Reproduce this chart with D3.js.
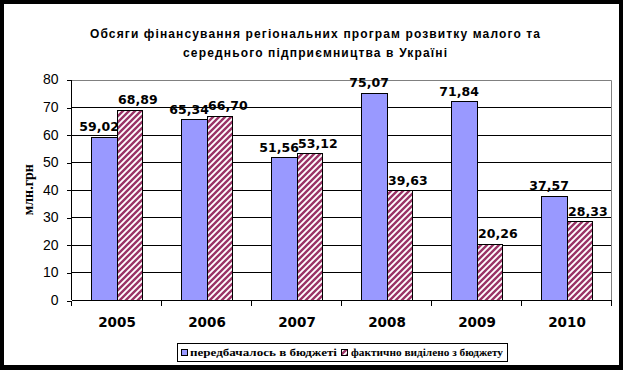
<!DOCTYPE html>
<html>
<head>
<meta charset="utf-8">
<script src="https://cdn.jsdelivr.net/npm/d3@7"></script>
<style>
  body { margin: 0; background: #fff; }
  svg { display: block; }
</style>
</head>
<body>
<svg width="623" height="370"></svg>
<script>
const years = ['2005', '2006', '2007', '2008', '2009', '2010'];
const planned = [59.02, 65.34, 51.56, 75.07, 71.84, 37.57];
const actual = [68.89, 66.70, 53.12, 39.63, 20.26, 28.33];
const seriesNames = ['передбачалось в бюджеті', 'фактично виділено з бюджету'];
const yTicks = [0, 10, 20, 30, 40, 50, 60, 70, 80];
const titleLines = ['Обсяги фінансування регіональних програм розвитку малого та', 'середнього підприємництва в Україні'];
const yTitle = 'млн.грн';

const svg = d3.select('svg');
const fmt = v => d3.format('.2f')(v).replace('.', ',');

// black frame round the picture
svg.append('rect').attr('width', 623).attr('height', 370).attr('fill', '#000');
svg.append('rect').attr('x', 4).attr('y', 4).attr('width', 615).attr('height', 361).attr('fill', '#fff');

const defs = svg.append('defs');
const pat = defs.append('pattern')
  .attr('id', 'hatch')
  .attr('patternUnits', 'userSpaceOnUse')
  .attr('width', 6).attr('height', 6);
pat.append('rect').attr('width', 6).attr('height', 6).attr('fill', '#fff');
pat.append('path')
  .attr('d', 'M-1,1 l2,-2 M0,6 l6,-6 M5,7 l2,-2')
  .attr('stroke', '#993366')
  .attr('stroke-width', 2.4);

const plot = { left: 72, right: 612, top: 79.5, bottom: 300 };

const xScale = d3.scaleBand()
  .domain(years)
  .range([plot.left, plot.right]);

const xInner = d3.scaleBand()
  .domain(['planned', 'actual'])
  .range([0, xScale.bandwidth()])
  .paddingOuter(0.75);

const yScale = d3.scaleLinear()
  .domain([0, 80])
  .range([plot.bottom, plot.top]);

// grid lines
svg.append('g')
  .selectAll('line')
  .data(yTicks.filter(t => t > 0 && t < 80))
  .enter().append('line')
  .attr('x1', plot.left).attr('x2', plot.right)
  .attr('y1', d => Math.round(yScale(d)) + 0.5)
  .attr('y2', d => Math.round(yScale(d)) + 0.5)
  .attr('stroke', '#000');

// plot border (top + right, grey)
svg.append('path')
  .attr('d', `M${plot.left},${Math.round(plot.top) + 0.5}H${plot.right - 0.5}V${plot.bottom}`)
  .attr('fill', 'none')
  .attr('stroke', '#808080');

const groups = svg.append('g')
  .selectAll('g')
  .data(years.map((y, i) => ({ year: y, planned: planned[i], actual: actual[i] })))
  .enter().append('g')
  .attr('transform', d => `translate(${xScale(d.year)},0)`);

groups.append('rect')
  .attr('x', xInner('planned'))
  .attr('y', d => yScale(d.planned))
  .attr('width', xInner.bandwidth())
  .attr('height', d => plot.bottom - yScale(d.planned))
  .attr('fill', '#9999ff')
  .attr('stroke', '#000');

groups.append('rect')
  .attr('x', xInner('actual'))
  .attr('y', d => yScale(d.actual))
  .attr('width', xInner.bandwidth())
  .attr('height', d => plot.bottom - yScale(d.actual))
  .attr('fill', 'url(#hatch)')
  .attr('stroke', '#000');

const labelFont = 'DejaVu Sans, Verdana, sans-serif';
groups.append('text')
  .attr('x', xInner('planned') + xInner.bandwidth() / 2 - 5)
  .attr('y', d => yScale(d.planned) - 6)
  .attr('text-anchor', 'middle')
  .style('font', `bold 12.5px ${labelFont}`)
  .text(d => fmt(d.planned));

groups.append('text')
  .attr('x', xInner('actual') + xInner.bandwidth() / 2 + 8)
  .attr('y', d => yScale(d.actual) - 6)
  .attr('text-anchor', 'middle')
  .style('font', `bold 12.5px ${labelFont}`)
  .text(d => fmt(d.actual));

// axes
const yAxis = svg.append('g')
  .attr('transform', `translate(${plot.left - 0.5},0)`)
  .call(d3.axisLeft(yScale).tickValues(yTicks).tickSize(5).tickPadding(8));
yAxis.select('.domain').attr('d', `M0,${plot.top}V${plot.bottom}`);
yAxis.selectAll('.tick line').attr('transform', 'translate(0,0.5)');
yAxis.selectAll('text')
  .style('font', '14px "Liberation Sans", Arial, sans-serif')
  .attr('fill', '#000');

const xAxis = svg.append('g')
  .attr('transform', `translate(0,${plot.bottom + 0.5})`)
  .call(d3.axisBottom(xScale).tickSize(0).tickPadding(17));
xAxis.select('.domain').attr('d', `M${plot.left},0H${plot.right}`);
xAxis.selectAll('text')
  .style('font', `bold 13.5px ${labelFont}`)
  .attr('fill', '#000');
// category separator ticks
xAxis.append('g')
  .selectAll('line')
  .data(years.map(y => xScale(y)).concat([plot.right]))
  .enter().append('line')
  .attr('x1', d => Math.round(d) - 0.5).attr('x2', d => Math.round(d) - 0.5)
  .attr('y1', 0).attr('y2', 5)
  .attr('stroke', '#000');

svg.selectAll('.domain, .tick line').attr('stroke', '#000').attr('shape-rendering', 'crispEdges');
svg.selectAll('rect, line').attr('shape-rendering', 'crispEdges');

// title
svg.append('g')
  .selectAll('text')
  .data(titleLines)
  .enter().append('text')
  .attr('x', 315)
  .attr('y', (d, i) => 38 + i * 19)
  .attr('text-anchor', 'middle')
  .attr('textLength', (d, i) => i === 0 ? 450 : 264)
  .attr('lengthAdjust', 'spacing')
  .style('font', 'bold 12px "Liberation Sans", Arial, sans-serif')
  .text(d => d);

// y axis title
svg.append('text')
  .attr('transform', `translate(33,${(plot.top + plot.bottom) / 2}) rotate(-90)`)
  .attr('text-anchor', 'middle')
  .style('font', 'bold 14px "Liberation Serif", "Times New Roman", serif')
  .text(yTitle);

// legend
const legend = svg.append('g');
legend.append('rect')
  .attr('x', 177.5).attr('y', 343.5)
  .attr('width', 330).attr('height', 18)
  .attr('fill', '#fff').attr('stroke', '#000');

const legendItems = [
  { name: seriesNames[0], fill: '#9999ff', x: 181, tx: 190, len: 147 },
  { name: seriesNames[1], fill: 'url(#hatch)', x: 341, tx: 351, len: 152 }
];
legend.selectAll('rect.sw')
  .data(legendItems)
  .enter().append('rect')
  .attr('class', 'sw')
  .attr('x', d => d.x + 0.5).attr('y', 349.5)
  .attr('width', 6).attr('height', 6)
  .attr('fill', d => d.fill)
  .attr('stroke', '#000');
legend.selectAll('text')
  .data(legendItems)
  .enter().append('text')
  .attr('x', d => d.tx)
  .attr('y', 356)
  .attr('textLength', d => d.len)
  .attr('lengthAdjust', 'spacingAndGlyphs')
  .style('font', 'bold 11px "Liberation Serif", "Times New Roman", serif')
  .text(d => d.name);
</script>
</body>
</html>
